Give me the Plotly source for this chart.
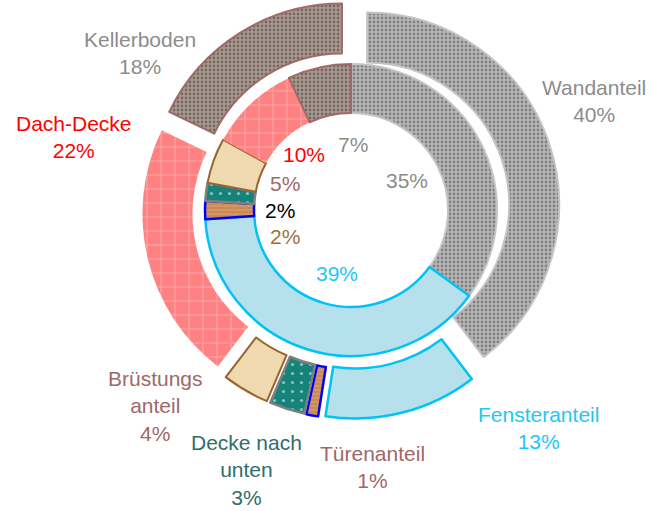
import plotly.graph_objects as go

# ---------------- data ----------------
categories = ["Wandanteil", "Fensteranteil", "Türenanteil", "Decke nach unten",
              "Brüstungsanteil", "Dach-Decke", "Kellerboden"]
outer_values = [40, 13, 1, 3, 4, 22, 18]
inner_values = [35, 39, 2, 2, 5, 10, 7]
outer_label_names = ["Wandanteil", "Fensteranteil", "Türenanteil", "Decke nach<br>unten",
                     "Brüstungs<br>anteil", "Dach-Decke", "Kellerboden"]

# ---------------- styles ----------------
fill_colors = ["#b8b8b8", "#b6e1ec", "#c98a55", "#16837b", "#efdab0", "#ff8282", "#aa9c93"]
pat_shapes = [".", "", "-", ".", "", "+", "."]
pat_fg = ["#474747", "#ffffff", "#e8b585", "#ffffff", "#ffffff", "#ffe8e8", "#3e322b"]
pat_size = [4, 8, 4, 9, 8, 14, 4]
pat_solid = [0.38, 0.1, 0.3, 0.1, 0.1, 0.1, 0.38]
line_colors = ["#c4c4c4", "#00c3f5", "#0000ff", "#7f7f7f", "#9a6330", "#ff8282", "#a06a6a"]
line_widths = [2, 2.5, 2.5, 2.5, 2, 0, 2]

outer_text_colors = ["#8c8c8c", "#1ec8f5", "#a06868", "#2f6e6b", "#a06868", "#ff0000", "#8c8c8c"]
inner_text_colors = ["#8c8c8c", "#1ec8f5", "#a0703c", "#000000", "#a06868", "#ff0000", "#8c8c8c"]

# label positions (pixels, top-left origin)
outer_label_pos = [(594, 101), (538, 428), (372, 467), (246, 470), (155, 406), (74, 137), (140, 53)]
inner_label_pos = [(407, 180), (337, 273), (285, 237), (280, 210), (285, 183), (304, 154), (353, 145)]

W, H = 652, 511
CX, CY = 351, 210            # centre in pixels
R_OUT, R_OUT_IN, PULL_PX = 192, 142, 17
R_IN, R_IN_HOLE = 146, 97


def domain(r_box):
    return dict(x=[max(0, (CX - r_box) / W), min(1, (CX + r_box) / W)],
                y=[max(0, (H - CY - r_box) / H), min(1, (H - CY + r_box) / H)])


pull = PULL_PX / R_OUT
marker = dict(
    colors=fill_colors,
    line=dict(color=line_colors, width=line_widths),
    pattern=dict(shape=pat_shapes, fgcolor=pat_fg, size=pat_size,
                 solidity=pat_solid, fillmode="overlay"),
)

fig = go.Figure()
fig.add_trace(go.Pie(
    labels=categories, values=outer_values, sort=False, direction="clockwise",
    rotation=0, hole=R_OUT_IN / R_OUT, pull=pull, textinfo="none",
    domain=domain(R_OUT * (1 + pull)), marker=marker, showlegend=False,
    name="außen",
))
fig.add_trace(go.Pie(
    labels=categories, values=inner_values, sort=False, direction="clockwise",
    rotation=0, hole=R_IN_HOLE / R_IN, textinfo="none",
    domain=domain(R_IN), marker=marker, showlegend=False, name="innen",
))

FONT = "Liberation Sans, Arial, sans-serif"
ann = []
for name, v, c, (px, py) in zip(outer_label_names, outer_values, outer_text_colors, outer_label_pos):
    ann.append(dict(text=f"{name}<br>{v}%", x=px / W, y=1 - py / H,
                    xref="paper", yref="paper", xanchor="center", yanchor="middle",
                    showarrow=False, align="center", font=dict(color=c, size=21, family=FONT)))
for v, c, (px, py) in zip(inner_values, inner_text_colors, inner_label_pos):
    ann.append(dict(text=f"{v}%", x=px / W, y=1 - py / H,
                    xref="paper", yref="paper", xanchor="center", yanchor="middle",
                    showarrow=False, font=dict(color=c, size=21, family=FONT)))

fig.update_layout(width=W, height=H, margin=dict(l=0, r=0, t=0, b=0),
                  paper_bgcolor="white", plot_bgcolor="white", annotations=ann)
fig.write_html("out.html", config={"displayModeBar": False},
               post_script="document.body.style.margin='0px';")
